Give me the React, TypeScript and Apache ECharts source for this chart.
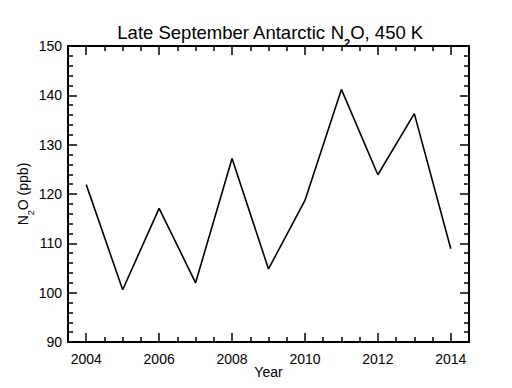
import React, { useEffect, useRef } from "react";
import * as echarts from "echarts";

const years = [2004, 2005, 2006, 2007, 2008, 2009, 2010, 2011, 2012, 2013, 2014];
const n2o = [121.9, 100.6, 117.1, 102.0, 127.2, 104.8, 118.7, 141.2, 123.9, 136.3, 108.9];
const xMajorTicks = [2004, 2006, 2008, 2010, 2012, 2014];
const xMinorTicks = [
  2003.5, 2004.5, 2005, 2005.5, 2006.5, 2007, 2007.5, 2008.5, 2009, 2009.5,
  2010.5, 2011, 2011.5, 2012.5, 2013, 2013.5, 2014.5,
];

const FONT = "Liberation Sans, Arial, Helvetica, sans-serif";

export default function App() {
  const ref = useRef<HTMLDivElement>(null);
  useEffect(() => {
    if (!ref.current) return;
    const chart = echarts.init(ref.current, undefined, { renderer: "svg" });
    const axisLine = { show: true, onZero: false, lineStyle: { color: "#000", width: 2 } };
    const xBase = (pos: "top" | "bottom") => ({
      type: "value" as const,
      position: pos,
      min: 2003.5,
      max: 2014.5,
      axisLine,
      splitLine: { show: false },
    });
    const yBase = (pos: "left" | "right") => ({
      type: "value" as const,
      position: pos,
      min: 90,
      max: 150,
      interval: 10,
      axisLine,
      splitLine: { show: false },
      axisTick: { show: true, inside: true, length: 9, lineStyle: { color: "#000", width: 1.5 } },
      minorTick: { show: true, splitNumber: 5, length: 5, lineStyle: { color: "#000", width: 1.5 } },
    });
    chart.setOption({
      animation: false,
      backgroundColor: "#fff",
      title: {
        text: "{a|Late September Antarctic }{a|N}{s|2}{a|O, 450 K}",
        left: 265,
        textAlign: "center",
        top: 18,
        textStyle: {
          rich: {
            a: { fontFamily: FONT, fontSize: 18.5, color: "#000", fontWeight: "normal" },
            s: { fontFamily: FONT, fontSize: 11, color: "#000", verticalAlign: "bottom", padding: [0, 0, -6, 0] },
          },
        },
      },
      grid: { left: 68, right: 43, top: 46, bottom: 46, containLabel: false },
      xAxis: [
        {
          ...xBase("bottom"),
          name: "Year",
          nameLocation: "middle",
          nameGap: 23,
          nameMoveOverlap: false,
          nameTextStyle: { fontFamily: FONT, fontSize: 14, color: "#000" },
          axisTick: { show: true, inside: true, length: 9, customValues: xMajorTicks, lineStyle: { color: "#000", width: 1.5 } },
          axisLabel: {
            show: true,
            customValues: xMajorTicks,
            fontFamily: FONT,
            fontSize: 14,
            color: "#000",
            margin: 10,
            formatter: (v: number) => String(v),
          },
        },
        {
          ...xBase("bottom"),
          axisTick: { show: true, inside: true, length: 5, customValues: xMinorTicks, lineStyle: { color: "#000", width: 1.5 } },
          axisLabel: { show: false },
        },
        {
          ...xBase("top"),
          axisTick: { show: true, inside: true, length: 9, customValues: xMajorTicks, lineStyle: { color: "#000", width: 1.5 } },
          axisLabel: { show: false },
        },
        {
          ...xBase("top"),
          axisTick: { show: true, inside: true, length: 5, customValues: xMinorTicks, lineStyle: { color: "#000", width: 1.5 } },
          axisLabel: { show: false },
        },
      ],
      yAxis: [
        {
          ...yBase("left"),
          name: "{a|N}{s|2}{a|O (ppb)}",
          nameLocation: "middle",
          nameGap: 38,
          nameMoveOverlap: false,
          nameRotate: 90,
          nameTextStyle: {
            rich: {
              a: { fontFamily: FONT, fontSize: 14, color: "#000" },
              s: { fontFamily: FONT, fontSize: 9, color: "#000", verticalAlign: "bottom", padding: [0, 0, -5, 0] },
            },
          },
          axisLabel: { show: true, fontFamily: FONT, fontSize: 14, color: "#000", margin: 6 },
        },
        { ...yBase("right"), axisLabel: { show: false } },
      ],
      series: [
        {
          type: "line",
          xAxisIndex: 0,
          yAxisIndex: 0,
          data: years.map((y, i) => [y, n2o[i]]),
          showSymbol: false,
          symbol: "none",
          lineStyle: { color: "#000", width: 1.6 },
        },
      ],
    });
    return () => chart.dispose();
  }, []);
  return (
    <div
      ref={ref}
      style={{ position: "absolute", left: 0, top: 0, width: 512, height: 388, background: "#fff" }}
    />
  );
}
